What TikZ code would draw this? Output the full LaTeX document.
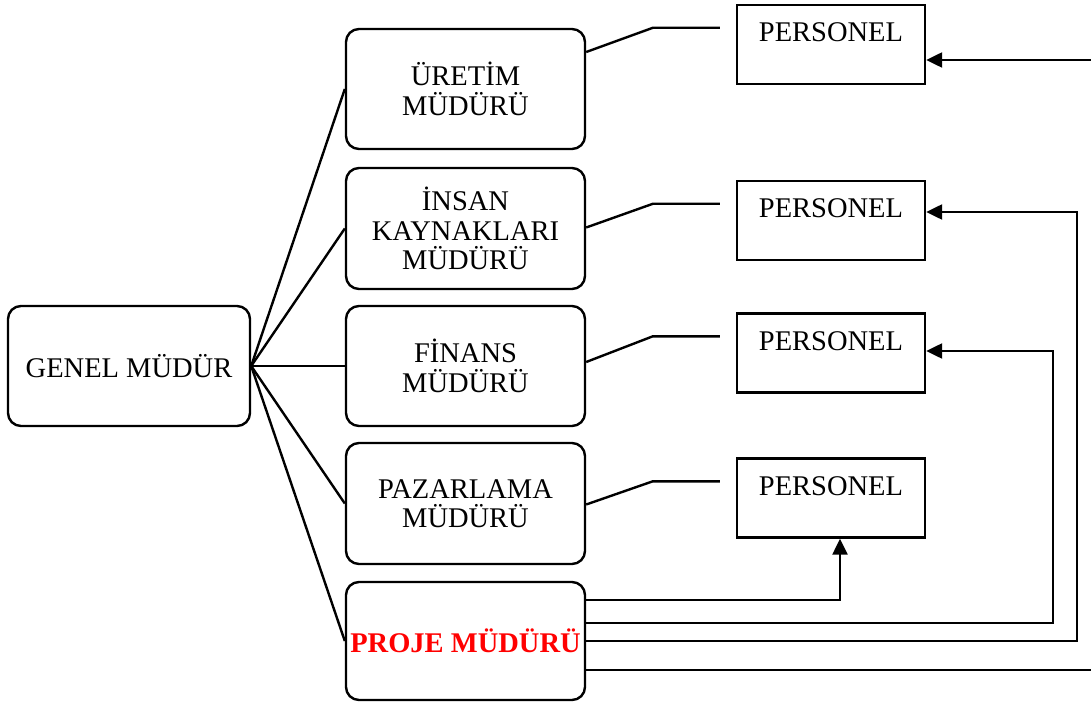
\documentclass[tikz,border=0pt]{standalone}
\usepackage{fontspec}
\setmainfont{Liberation Serif}
\usepackage{xcolor}
\usepackage{tikz}
\usetikzlibrary{arrows.meta}

\begin{document}
\begin{tikzpicture}[
    x=1pt, y=-1pt,
    line width=2.4pt,
    >={Triangle[length=16pt,width=15pt]},
    font=\fontsize{28.5}{29.5}\selectfont,
    head/.style={rectangle, draw, rounded corners=13pt, minimum width=242pt, minimum height=120pt, align=center},
    mgr/.style={rectangle, draw, rounded corners=13pt, minimum width=239pt, minimum height=120pt, align=center},
    staff/.style={rectangle, draw, minimum width=188pt, inner ysep=0pt, text height=37pt, text depth=42pt}
]
\useasboundingbox (0,0) rectangle (1091,703);

% General manager
\node[head] (gm) at (129,366) {GENEL MÜDÜR};

% Managers
\node[mgr] (uretim) at (465.5,89) {ÜRETİM\\MÜDÜRÜ};
\node[mgr, minimum height=121pt] (ik) at (465.5,228.5) {İNSAN\\KAYNAKLARI\\MÜDÜRÜ};
\node[mgr] (finans) at (465.5,366) {FİNANS\\MÜDÜRÜ};
\node[mgr, minimum height=121pt] (pazar) at (465.5,503.5) {PAZARLAMA\\MÜDÜRÜ};
\node[mgr, minimum height=118pt, text=red, font=\fontsize{28.5}{29.5}\selectfont\bfseries] (proje) at (465.5,641) {PROJE MÜDÜRÜ};

% Staff
\node[staff] (p1) at (831,44.5) {PERSONEL};
\node[staff] (p2) at (831,220.5) {PERSONEL};
\node[staff] (p3) at (831,353) {PERSONEL};
\node[staff] (p4) at (831,498) {PERSONEL};

% Lines from general manager
\draw (gm.east) -- (uretim.west);
\draw (gm.east) -- (ik.west);
\draw (gm.east) -- (finans.west);
\draw (gm.east) -- (pazar.west);
\draw (gm.east) -- (proje.west);

% Lines towards staff
\draw ([yshift=37pt]uretim.east) -- ([xshift=-83pt,yshift=-24pt]p1.north west) -- ([xshift=-16pt,yshift=-24pt]p1.north west);
\draw ([yshift=1pt]ik.east) -- ([xshift=-83pt,yshift=-24pt]p2.north west) -- ([xshift=-16pt,yshift=-24pt]p2.north west);
\draw ([yshift=4pt]finans.east) -- ([xshift=-83pt,yshift=-24pt]p3.north west) -- ([xshift=-16pt,yshift=-24pt]p3.north west);
\draw ([yshift=-1pt]pazar.east) -- ([xshift=-83pt,yshift=-24pt]p4.north west) -- ([xshift=-16pt,yshift=-24pt]p4.north west);

% Arrows from project manager
\coordinate (offB) at (1091,670);
\coordinate (offT) at (1091,60);
\draw[->] ([yshift=41pt]proje.east) -| ([xshift=9pt]p4.south);
\draw[->] ([yshift=18pt]proje.east) -- ++(467,0) |- ([yshift=2pt]p3.east);
\draw[->] ([yshift=0pt]proje.east) -- ++(491,0) |- ([yshift=8.5pt]p2.east);
\draw ([yshift=-29pt]proje.east) -- (offB);
\draw[->] (offT) -- ([yshift=-15.5pt]p1.east);

\end{tikzpicture}
\end{document}
